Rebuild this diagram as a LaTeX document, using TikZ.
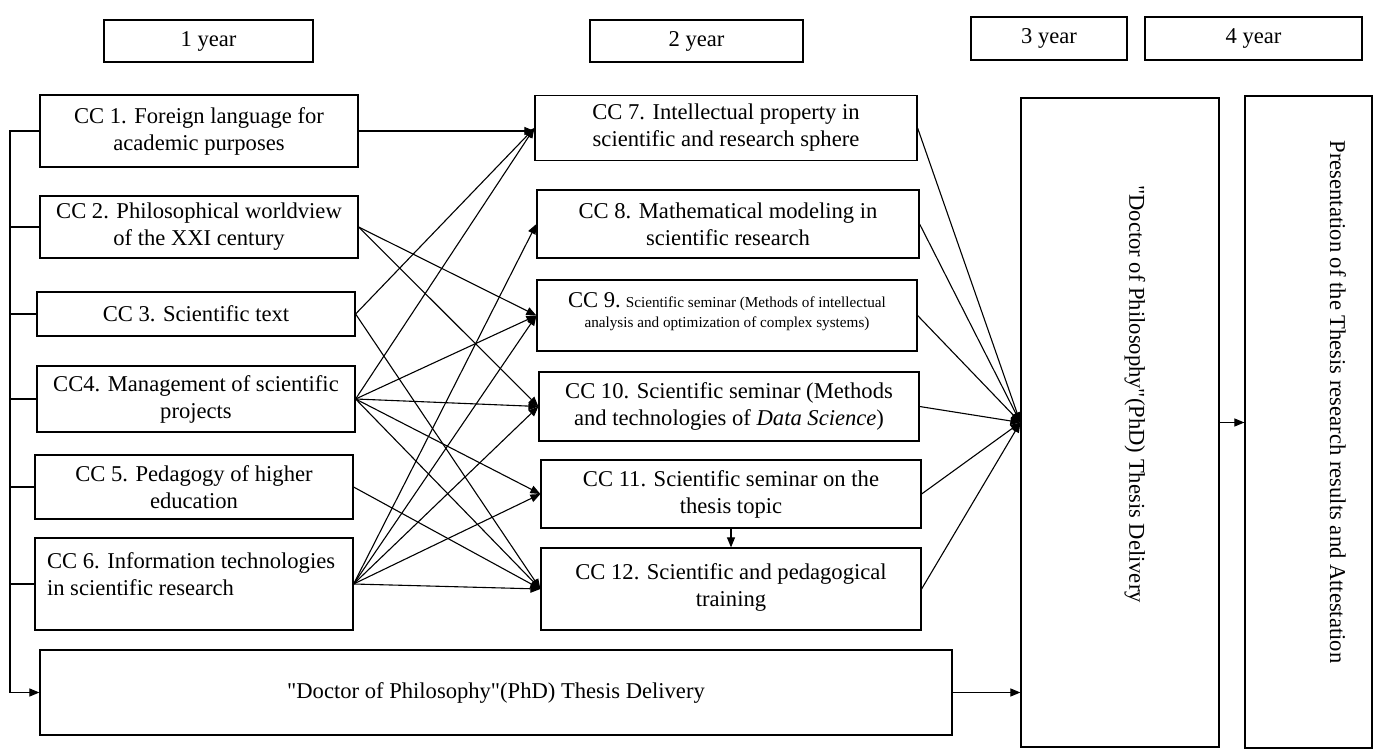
\documentclass[tikz,border=0pt]{standalone}
\usepackage{fontspec}
\setmainfont{Liberation Serif}[Ligatures=TeXOff]
\usetikzlibrary{arrows.meta}
\newcommand\fsn{\fontsize{11.3pt}{13.5pt}\selectfont}
\newcommand\fss{\fontsize{7.6pt}{10pt}\selectfont}
\begin{document}
\begin{tikzpicture}[x=0.5pt,y=-0.5pt,
  box/.style={draw, line width=0.6pt, inner sep=0pt, align=center, font=\fsn},
  conn/.style={line width=0.55pt},
  arr/.style={conn, -{Triangle[length=5pt,width=4pt]}}]
\useasboundingbox (0,0) rectangle (1398,749);
% year headers
\node[box, minimum width=104.5pt, minimum height=21pt] (y1) at (208.5,41) {1 year};
\node[box, minimum width=106.5pt, minimum height=21pt] (y2) at (696.5,41) {2 year};
\node[box, minimum width=78pt, minimum height=21.5pt] (y3) at (1049,38.5) {3 year};
\node[box, minimum width=108.5pt, minimum height=21.5pt] (y4) at (1253.5,38.5) {4 year};
% first-year courses
\node[box, minimum width=159pt, minimum height=36pt] (c1) at (199,131) {CC 1. Foreign language for\\academic purposes};
\node[box, minimum width=159pt, minimum height=31pt] (c2) at (199,227) {CC 2. Philosophical worldview\\of the XXI century};
\node[box, minimum width=159pt, minimum height=22pt] (c3) at (196,314) {CC 3. Scientific text};
\node[box, minimum width=159pt, minimum height=33pt] (c4) at (196,399) {CC4. Management of scientific\\projects};
\node[box, minimum width=159pt, minimum height=32pt] (c5) at (194,487) {CC 5. Pedagogy of higher\\education};
\node[box, minimum width=159pt, minimum height=46pt] (c6) at (194,584) {\parbox[c][46pt][t]{147pt}{\raggedright\vspace*{7.5pt}CC 6. Information technologies\\in scientific research}};
% second-year courses
\node[box, minimum width=191pt, minimum height=32.5pt] (c7) at (726,128) {CC 7. Intellectual property in\\scientific and research sphere};
\node[box, minimum width=191pt, minimum height=34pt] (c8) at (728,224) {CC 8. Mathematical modeling in\\scientific research};
\node[box, minimum width=190pt, minimum height=35.5pt] (c9) at (727,315.5) {\parbox[c][35.5pt][t]{188pt}{\centering\fss\vspace*{6.5pt}{\fsn CC 9.} Scientific seminar (Methods of intellectual\\analysis and optimization of complex systems)}};
\node[box, minimum width=190pt, minimum height=34.5pt] (c10) at (729,406.5) {CC 10. Scientific seminar (Methods\\and technologies of \textit{Data Science})};
\node[box, minimum width=190pt, minimum height=34pt] (c11) at (731,494) {CC 11. Scientific seminar on the\\thesis topic};
\node[box, minimum width=190pt, minimum height=41pt] (c12) at (731,589) {\parbox[c][41pt][t]{188pt}{\centering\vspace*{8pt}CC 12. Scientific and pedagogical\\training}};
% bottom thesis box
\node[box, minimum width=456pt, minimum height=42.5pt] (bot) at (496,692.5) {"Doctor of Philosophy"(PhD) Thesis Delivery};
% year 3 and 4 boxes
\node[box, minimum width=99pt, minimum height=324.5pt] (b3) at (1120,422.5) {};
\node[box, minimum width=63.5pt, minimum height=326pt] (b4) at (1308.5,422) {};
\node[rotate=-90, font=\fsn, inner sep=0pt] (t3) at (1135,394) {"Doctor of Philosophy"(PhD) Thesis Delivery};
\node[rotate=-90, font=\fsn, inner sep=0pt] (t4) at (1338,402) {Presentation of the Thesis research results and Attestation};
% left bus
\coordinate (bt) at (10,131);
\coordinate (bb) at (10,692.5);
\draw[conn] (c1.west) -- (c1.west -| bt) -- (bb);
\foreach \n in {c2,c3,c4,c5,c6} \draw[conn] (\n.west) -- (\n.west -| bt);
\draw[arr] (bb) -- (bot.west);
% year 1 -> year 2
\draw[arr] (c1.east) -- (c1.east -| c7.west);
\draw[arr] (c2.east) -- (c9.west);
\draw[arr] (c2.east) -- (c10.west);
\draw[arr] (c3.east) -- (c7.west);
\draw[arr] (c3.east) -- (c12.west);
\foreach \t in {c7,c9,c10,c11,c12} \draw[arr] (c4.east) -- (\t.west);
\draw[arr] (c5.east) -- (c12.west);
\foreach \t in {c8,c9,c10,c11,c12} \draw[arr] (c6.east) -- (\t.west);
\draw[arr] (c11.south) -- (c12.north);
% year 2 -> thesis
\foreach \s in {c7,c8,c9,c10,c11,c12} \draw[arr] (\s.east) -- (b3.west);
\draw[arr] (bot.east) -- (bot.east -| b3.west);
\draw[arr] (b3.east) -- (b3.east -| b4.west);
\end{tikzpicture}
\end{document}
